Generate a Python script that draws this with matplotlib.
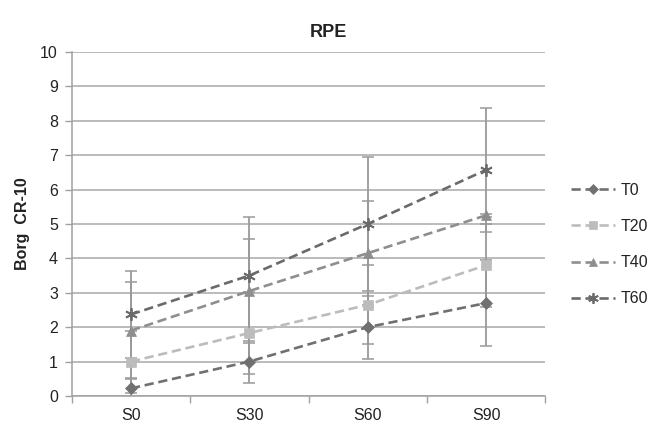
import numpy as np
import matplotlib.pyplot as plt

plt.rcParams['font.family'] = ['Liberation Sans', 'DejaVu Sans']

sessions = ['S0', 'S30', 'S60', 'S90']
labels = ['T0', 'T20', 'T40', 'T60']

# mean RPE per series
t0 = [0.22, 1.00, 2.00, 2.70]
t20 = [1.00, 1.83, 2.65, 3.80]
t40 = [1.90, 3.05, 4.15, 5.25]
t60 = [2.37, 3.50, 5.00, 6.57]

# standard deviations (error bars)
t0_sd = [0.29, 0.61, 0.92, 1.24]
t20_sd = [0.90, 1.19, 1.15, 1.20]
t40_sd = [1.42, 1.51, 1.51, 0.05]
t60_sd = [1.27, 1.71, 1.94, 1.80]

means = [t0, t20, t40, t60]
sds = [t0_sd, t20_sd, t40_sd, t60_sd]
colors = ['#707070', '#bcbcbc', '#8e8e8e', '#6a6a6a']
markers = ['D', 's', '^', (6, 2, 0)]
msizes = [6, 7.5, 7.5, 9]

fig = plt.figure(figsize=(6.53, 4.29), dpi=100)
ax = fig.add_axes([0.110, 0.077, 0.725, 0.802])

x = np.arange(len(sessions))

for m, s in zip(means, sds):
    ax.errorbar(x, m, yerr=s, fmt='none', ecolor='#9a9a9a', elinewidth=1.3,
                capsize=4, capthick=1.1, zorder=2)

for m, lab, c, mk, ms in zip(means, labels, colors, markers, msizes):
    ax.plot(x, m, linestyle='--', dashes=(3.5, 1.8), color=c, linewidth=1.9,
            marker=mk, markersize=ms, markeredgewidth=1.3 if mk == markers[3] else 0.5,
            markeredgecolor=c, markerfacecolor=c, label=lab, zorder=3)

ax.set_xlim(-0.5, 3.5)
ax.set_ylim(0, 10)
ax.set_yticks(range(0, 11))
ax.set_xticks(x)
ax.set_xticklabels(sessions)
ax.set_xticks(np.arange(-0.5, 4, 1), minor=True)
ax.tick_params(axis='x', which='major', length=0, pad=9, labelsize=11.5, labelcolor='#222222')
ax.tick_params(axis='x', which='minor', length=5, color='#a0a0a0', width=1, direction='out')
ax.tick_params(axis='y', length=5, color='#a0a0a0', width=1, labelsize=11.5,
               labelcolor='#222222', pad=5)

ax.grid(axis='y', color='#a8a8a8', linewidth=1.1)
ax.set_axisbelow(True)
for side in ['top', 'right']:
    ax.spines[side].set_visible(False)
for side in ['left', 'bottom']:
    ax.spines[side].set_color('#a0a0a0')
    ax.spines[side].set_linewidth(1.1)

ax.set_ylabel('Borg  CR-10', fontsize=11.5, fontweight='bold', labelpad=7, color='#222222')
fig.text(0.503, 0.925, 'RPE', ha='center', va='center', fontsize=13,
         fontweight='bold', color='#222222')

leg = ax.legend(loc='center left', bbox_to_anchor=(1.04, 0.44), frameon=False,
                fontsize=11.5, handlelength=2.75, labelspacing=1.32, handletextpad=0.4,
                borderaxespad=0, markerscale=0.85)
for t in leg.get_texts():
    t.set_color('#222222')

fig.savefig('out.png', dpi=100)
